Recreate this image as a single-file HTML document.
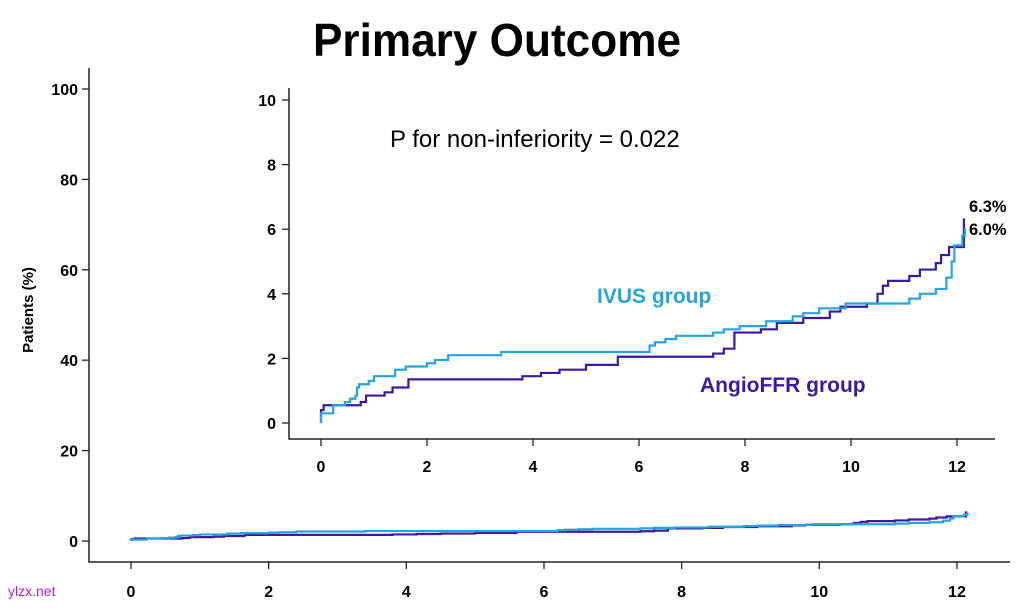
<!DOCTYPE html>
<html><head><meta charset="utf-8"><style>
body{margin:0;background:#fff;width:1027px;height:606px;overflow:hidden;font-family:"Liberation Sans",Arial,sans-serif}
svg text{font-family:"Liberation Sans",Arial,sans-serif}
</style></head><body>
<svg id="s" width="1027" height="606" xmlns="http://www.w3.org/2000/svg">
<rect width="1027" height="606" fill="#fff"/>
<text x="497" y="56" text-anchor="middle" font-size="46" font-weight="bold" transform="translate(497,0) scale(0.96,1) translate(-497,0)">Primary Outcome</text>
<g stroke="#222" stroke-width="1.5" fill="none">
<path d="M89,68 V562 H1010"/>
<path d="M289,88 V439 H995"/>
</g>
<g id="ticks" stroke="#222" stroke-width="1.3"></g>
<g id="labels" font-size="16" font-weight="bold" fill="#000"></g>
<text x="33" y="310" font-size="15" font-weight="bold" text-anchor="middle" transform="rotate(-90 33 310)">Patients (%)</text>
<text x="390" y="147" font-size="24">P for non-inferiority = 0.022</text>
<text x="597" y="303" font-size="21" font-weight="bold" fill="#29a3dd">IVUS group</text>
<text x="700" y="392" font-size="21" font-weight="bold" fill="#3a1aa0">AngioFFR group</text>
<text x="969" y="212" font-size="16.5" font-weight="bold">6.3%</text>
<text x="969" y="235" font-size="16.5" font-weight="bold">6.0%</text>
<text x="8" y="596" font-size="14" fill="#b020d0">ylzx.net</text>
<g id="curves" fill="none" stroke-width="2.2"></g>
</svg>
<script>
var NS="http://www.w3.org/2000/svg";
function el(p,t,a,txt){var e=document.createElementNS(NS,t);for(var k in a)e.setAttribute(k,a[k]);if(txt!==undefined)e.textContent=txt;document.getElementById(p).appendChild(e);}
for(var v=0;v<=100;v+=20){var y=541-v*4.52;el("ticks","line",{x1:82,x2:89,y1:y,y2:y});el("labels","text",{x:78,y:y+6,"text-anchor":"end"},v);}
for(var m=0;m<=12;m+=2){var x=131+m*68.83;el("ticks","line",{x1:x,x2:x,y1:562,y2:569});el("labels","text",{x:x,y:597,"text-anchor":"middle"},m);}
for(var v=0;v<=10;v+=2){var y=423-v*32.3;el("ticks","line",{x1:282,x2:289,y1:y,y2:y});el("labels","text",{x:276,y:y+6,"text-anchor":"end"},v);}
for(var m=0;m<=12;m+=2){var x=321+m*53;el("ticks","line",{x1:x,x2:x,y1:439,y2:446});el("labels","text",{x:x,y:472,"text-anchor":"middle"},m);}
var ivus=[[0,0],[0,0.3],[0.23,0.55],[0.45,0.65],[0.55,0.75],[0.65,0.85],[0.68,1.1],[0.72,1.2],[0.9,1.3],[1.0,1.45],[1.4,1.65],[1.6,1.75],[2.0,1.85],[2.15,1.95],[2.4,2.1],[3.4,2.2],[6.2,2.4],[6.3,2.5],[6.5,2.6],[6.7,2.7],[7.4,2.8],[7.6,2.9],[7.9,3.0],[8.4,3.15],[8.9,3.3],[9.1,3.4],[9.4,3.55],[9.9,3.7],[11.1,3.85],[11.3,4.0],[11.6,4.15],[11.8,4.5],[11.9,5.0],[11.95,5.5],[12.1,5.8],[12.15,6.0],[12.17,6.0]];
var ang=[[0,0],[0,0.4],[0.05,0.55],[0.75,0.65],[0.85,0.85],[1.2,0.95],[1.35,1.1],[1.65,1.35],[3.8,1.45],[4.15,1.55],[4.5,1.65],[5.0,1.8],[5.6,2.05],[7.4,2.15],[7.6,2.3],[7.8,2.8],[8.3,2.9],[8.6,3.1],[9.1,3.25],[9.6,3.45],[9.8,3.6],[10.3,3.7],[10.5,4.0],[10.6,4.25],[10.7,4.4],[11.1,4.55],[11.3,4.75],[11.6,4.95],[11.7,5.2],[11.85,5.45],[12.13,5.5],[12.13,6.3],[12.15,6.3]];
function path(d,x0,sx,y0,sy){var s="";for(var i=0;i<d.length;i++){var x=x0+d[i][0]*sx,y=y0-d[i][1]*sy;if(i==0)s+="M"+x+","+y;else s+=" H"+x+" V"+y;}return s;}
el("curves","path",{d:path(ang,321,53,423,32.3),stroke:"#3a1aa0"});
el("curves","path",{d:path(ivus,321,53,423,32.3),stroke:"#29a3dd"});
el("curves","path",{d:path(ang,131,68.83,541,4.52),stroke:"#3a1aa0"});
el("curves","path",{d:path(ivus,131,68.83,541,4.52),stroke:"#29a3dd"});
</script>
</body></html>
